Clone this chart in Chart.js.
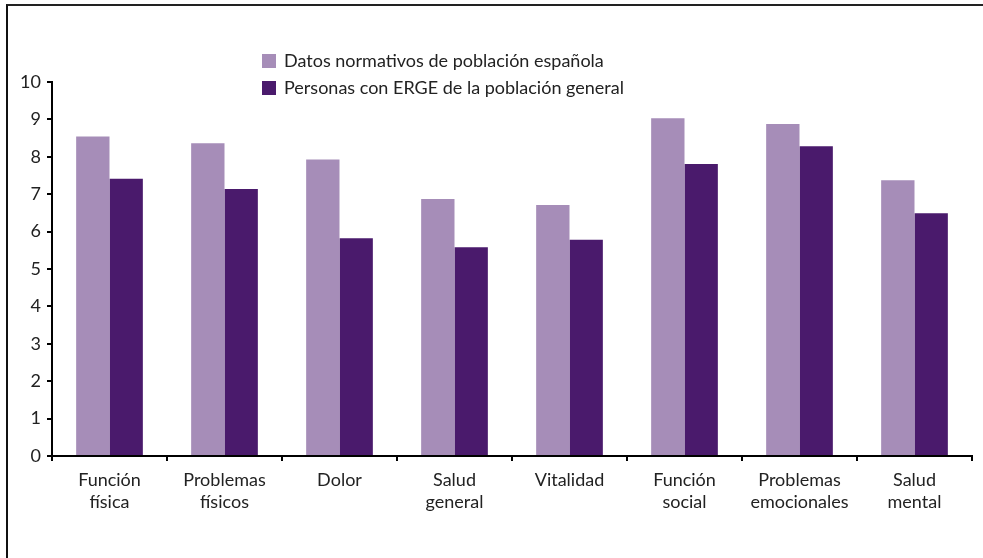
<!DOCTYPE html>
<html>
<head>
<meta charset="utf-8">
<script src="https://cdn.jsdelivr.net/npm/chart.js@4.4.1/dist/chart.umd.min.js"></script>
<style>
  html, body { margin: 0; padding: 0; background: #fff; }
  #wrap { position: relative; width: 983px; height: 558px; overflow: hidden; }
  #frame { position: absolute; left: 6px; top: 4px; right: -10px; bottom: -10px;
           border-left: 2px solid #111; border-top: 2px solid #222; }
  #legend { position: absolute; left: 262px; top: 47px; font-family: Lato, sans-serif;
            font-size: 18px; color: #222; line-height: 27px; }
  #legend span.box { display: inline-block; width: 14px; height: 14px; margin-right: 8px;
                     vertical-align: -1px; }
  canvas { position: absolute; left: 0; top: 0; }
</style>
</head>
<body>
<div id="wrap">
  <div id="frame"></div>
  <canvas id="chart" width="983" height="558"></canvas>
  <div id="legend"></div>
</div>
<script>
// Datos
const categorias = [
  ['Función', 'física'],
  ['Problemas', 'físicos'],
  ['Dolor'],
  ['Salud', 'general'],
  ['Vitalidad'],
  ['Función', 'social'],
  ['Problemas', 'emocionales'],
  ['Salud', 'mental']
];
const normativos = [8.54, 8.36, 7.93, 6.87, 6.71, 9.03, 8.88, 7.37];
const personasERGE = [7.41, 7.14, 5.82, 5.58, 5.78, 7.81, 8.28, 6.49];
const ticksY = [0, 1, 2, 3, 4, 5, 6, 7, 8, 9, 10];

const series = [
  { label: 'Datos normativos de población española', data: normativos, color: '#a68db8' },
  { label: 'Personas con ERGE de la población general', data: personasERGE, color: '#4a1a6c' }
];

const fuente = { family: 'Lato, sans-serif', size: 18, lineHeight: 1.22 };

var ctx = document.getElementById('chart').getContext('2d');
var chart = new Chart(ctx, {
    type: 'bar',
    data: {
        labels: categorias,
        datasets: series.map(s => ({
            label: s.label,
            data: s.data,
            backgroundColor: s.color,
            borderWidth: 0,
            categoryPercentage: 0.58,
            barPercentage: 1.0
        }))
    },
    options: {
        responsive: false,
        animation: false,
        layout: { padding: { left: 12, right: 11, top: 82, bottom: 0 } },
        plugins: {
            legend: { display: false },
            tooltip: { enabled: false }
        },
        scales: {
            x: {
                afterFit: (scale) => { scale.height = 102; },
                grid: { display: true, drawOnChartArea: false, offset: true, color: '#000', tickLength: 5, lineWidth: 2 },
                border: { color: '#000', width: 2 },
                ticks: { color: '#222', font: fuente, padding: 8 }
            },
            y: {
                min: 0,
                max: 10,
                afterFit: (scale) => { scale.width = 40; },
                afterBuildTicks: (scale) => { scale.ticks = ticksY.map(v => ({ value: v })); },
                grid: { display: true, drawOnChartArea: false, color: '#000', tickLength: 5, lineWidth: 2 },
                border: { color: '#000', width: 2 },
                ticks: { color: '#222', font: fuente, padding: 6 }
            }
        }
    }
});

// Leyenda en HTML, a partir de las series
document.getElementById('legend').innerHTML = series.map(s =>
    '<div><span class="box" style="background:' + s.color + '"></span>' + s.label + '</div>'
).join('');
</script>
</body>
</html>
